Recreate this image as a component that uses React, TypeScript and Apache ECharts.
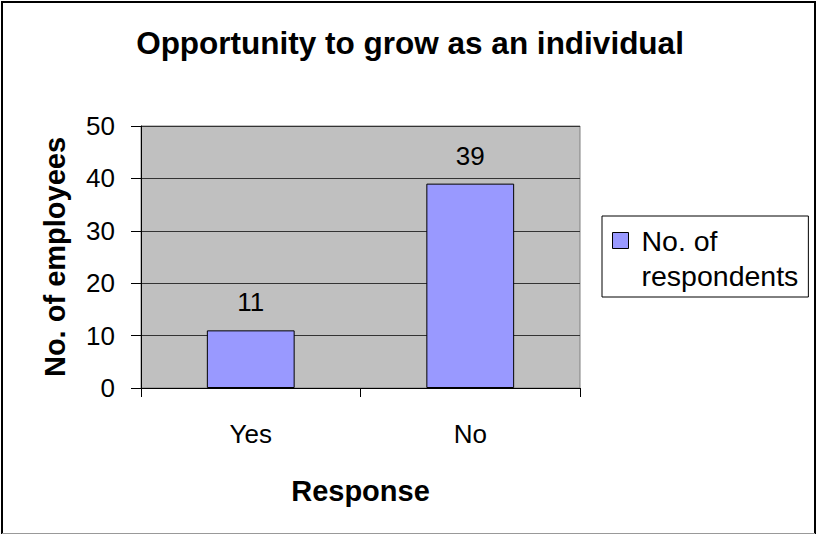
import React, { useEffect, useRef } from "react";
import * as echarts from "echarts";

const categories = ["Yes", "No"];
const respondents = [11, 39];
const seriesName = "No. of respondents";
const titleText = "Opportunity to grow as an individual";
const xAxisName = "Response";
const yAxisName = "No. of employees";

export default function App() {
  const ref = useRef<HTMLDivElement>(null);
  useEffect(() => {
    if (!ref.current) return;
    const chart = echarts.init(ref.current, null, { renderer: "svg" });
    const font = "Liberation Sans, Arial, Helvetica, sans-serif";
    chart.setOption({
      animation: false,
      backgroundColor: "#ffffff",
      textStyle: { fontFamily: font, color: "#000" },
      title: {
        text: titleText,
        left: 410,
        textAlign: "center",
        top: 27,
        padding: 0,
        textStyle: { fontSize: 31.5, fontWeight: "bold", color: "#000", fontFamily: font },
      },
      grid: {
        left: 141,
        right: 237,
        top: 126,
        bottom: 147,
        show: true,
        backgroundColor: "#c0c0c0",
        borderColor: "#808080",
        borderWidth: 1,
        containLabel: false,
      },
      legend: {
        show: true,
        left: 602,
        top: 216,
        orient: "vertical",
        backgroundColor: "#ffffff",
        borderColor: "#000",
        borderWidth: 1,
        borderRadius: 0,
        padding: [7, 10, 4, 10],
        itemWidth: 16,
        itemHeight: 51,
        icon: "path://M0,0L16,0L16,16L0,16Z M0,51",
        itemStyle: { color: "#9999ff", borderColor: "#000", borderWidth: 1 },
        formatter: () => "No. of\nrespondents",
        textStyle: {
          fontSize: 28.5,
          lineHeight: 35,
          color: "#000",
          fontFamily: font,
          padding: [0, 0, 0, 8],
        },
        data: [seriesName],
      },
      xAxis: {
        type: "category",
        data: categories,
        boundaryGap: true,
        name: xAxisName,
        nameLocation: "middle",
        nameGap: 88,
        nameTextStyle: { fontSize: 29, fontWeight: "bold", color: "#000", fontFamily: font },
        axisLine: { show: true, lineStyle: { color: "#000", width: 1 } },
        axisTick: { show: true, length: 9, alignWithLabel: false, lineStyle: { color: "#000" } },
        axisLabel: { fontSize: 26, color: "#000", margin: 33, fontFamily: font },
        splitLine: { show: false },
      },
      yAxis: {
        type: "value",
        min: 0,
        max: 50,
        interval: 10,
        name: yAxisName,
        nameLocation: "middle",
        nameGap: 72,
        nameTextStyle: { fontSize: 29, fontWeight: "bold", color: "#000", fontFamily: font },
        axisLine: { show: true, lineStyle: { color: "#000", width: 1 } },
        axisTick: { show: true, length: 10, inside: false, lineStyle: { color: "#000" } },
        axisLabel: { fontSize: 26, color: "#000", margin: 26, fontFamily: font },
        splitLine: { show: true, lineStyle: { color: "#333", width: 1 } },
      },
      series: [
        {
          name: seriesName,
          type: "bar",
          data: respondents,
          barWidth: "40%",
          itemStyle: { color: "#9999ff", borderColor: "#000", borderWidth: 1 },
          label: {
            show: true,
            position: "top",
            distance: 15,
            fontSize: 26,
            color: "#000",
            fontFamily: font,
          },
        },
      ],
      graphic: [
        { type: "line", shape: { x1: 2, y1: 2, x2: 815, y2: 2 }, style: { stroke: "#000", lineWidth: 2 } },
        { type: "line", shape: { x1: 2, y1: 1, x2: 2, y2: 534 }, style: { stroke: "#000", lineWidth: 2 } },
        { type: "line", shape: { x1: 815, y1: 1, x2: 815, y2: 534 }, style: { stroke: "#000", lineWidth: 2 } },
        { type: "line", shape: { x1: 2, y1: 533.5, x2: 815, y2: 533.5 }, style: { stroke: "#999", lineWidth: 1 } },
      ],
    });
    return () => chart.dispose();
  }, []);
  return (
    <div
      ref={ref}
      style={{ position: "fixed", left: 0, top: 0, width: 817, height: 535 }}
    />
  );
}
